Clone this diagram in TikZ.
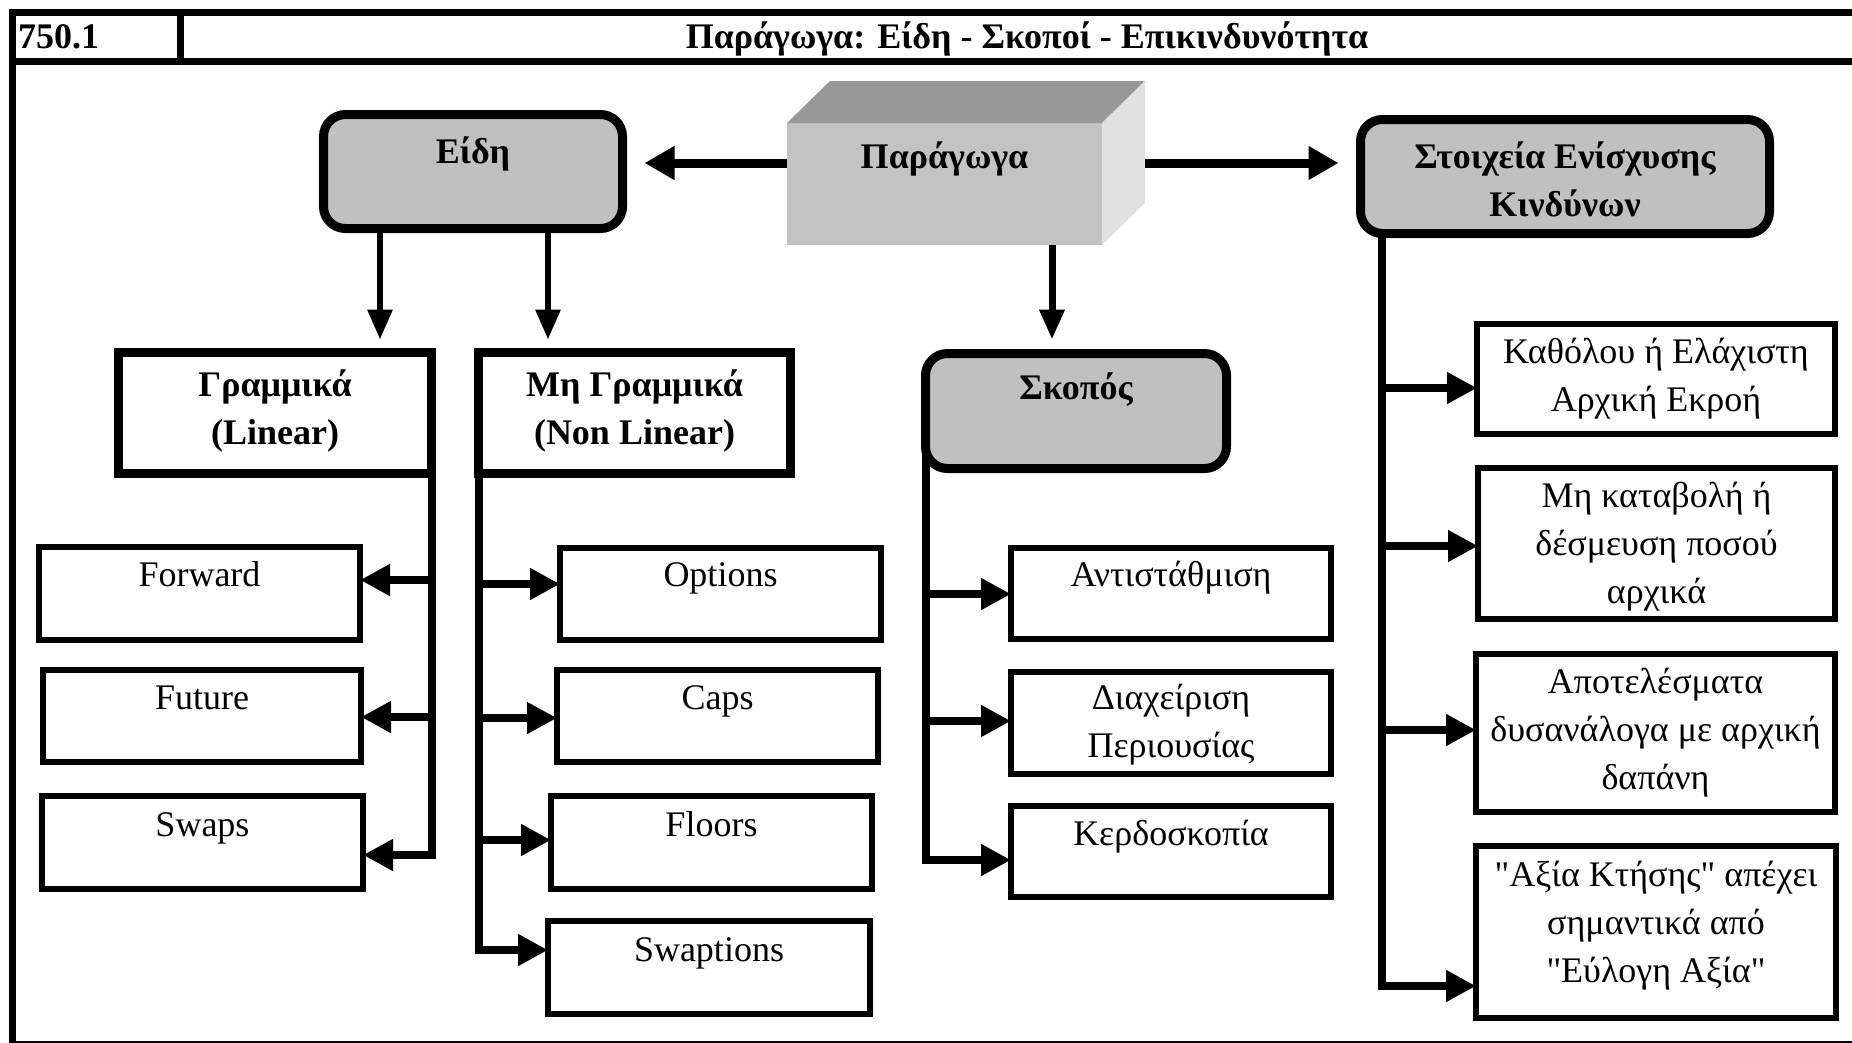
\documentclass[tikz,border=0pt]{standalone}
\usepackage{fontspec}
\setmainfont{Liberation Serif}
\newfontfamily\plainserif{Liberation Serif}
\usetikzlibrary{arrows.meta}
\definecolor{boxgray}{RGB}{192,192,192}
\definecolor{frontgray}{RGB}{195,195,195}
\definecolor{topgray}{RGB}{152,152,152}
\definecolor{sidegray}{RGB}{225,225,225}
\begin{document}
\begin{tikzpicture}[x=1pt,y=-1pt,
  every node/.style={inner sep=0pt, outer sep=0pt},
  headbox/.style={draw, line width=9pt, fill=boxgray, rounded corners=22pt},
  plainhead/.style={draw, line width=9pt, fill=white},
  leaf/.style={draw, line width=6pt, fill=white},
  txt/.style={anchor=north, align=center, font=\fontsize{36}{48}\selectfont},
  btxt/.style={anchor=north, align=center, font=\fontsize{36}{48}\selectfont\bfseries},
  frameline/.style={line width=7pt},
  harrow/.style={line width=9pt, -{Triangle[length=30pt,width=32pt]}},
  varrow/.style={line width=6pt, -{Triangle[length=30pt,width=24pt]}},
  brline/.style={line width=8pt, -{Triangle[length=30pt,width=30pt]}}]

\useasboundingbox (0,0) rectangle (1852,1042);
\fill[white] (0,0) rectangle (1852,1042);
\clip (0,0) rectangle (1852,1042);

% frame
\draw[frameline] (12,12.5) rectangle (1860,1044);
\draw[frameline] (12,61) -- (1860,61);
\draw[frameline] (180,12.5) -- (180,61);
\node[anchor=base west, font=\fontsize{36}{48}\selectfont\bfseries] (num) at (18,48) {750.1};
\node[anchor=base, font=\fontsize{36}{48}\selectfont\bfseries] (title) at (1027,48) {Παράγωγα: Είδη - Σκοποί - Επικινδυνότητα};

% 3D box
\node[fill=frontgray, minimum width=315pt, minimum height=122pt] (par) at (944.5,184) {};
\fill[topgray] (par.north west) -- ++(43,-42) -- ([shift={(43,-42)}]par.north east) -- (par.north east) -- cycle;
\fill[sidegray] (par.north east) -- ++(43,-42) -- ([shift={(43,-42)}]par.south east) -- (par.south east) -- cycle;
\node[btxt] (t-par) at (par.north |- 0,134.4) {\strut Παράγωγα};

% header boxes
\node[headbox, minimum width=299pt, minimum height=114pt] (eidi) at (473,171.5) {};
\node[headbox, minimum width=409pt, minimum height=114pt] (stoix) at (1565,176.5) {};
\node[headbox, minimum width=301pt, minimum height=115pt] (skopos) at (1076,411) {};
\node[plainhead, minimum width=313pt, minimum height=121pt] (lin) at (275,413) {};
\node[plainhead, minimum width=312pt, minimum height=121pt] (nonlin) at (634.5,413) {};

\node[btxt] (t-eidi) at (eidi.north |- 0,129.4) {\strut Είδη};
\node[btxt] (t-stoix) at (stoix.north |- 0,134.4) {\strut Στοιχεία Ενίσχυσης\\Κινδύνων};
\node[btxt] (t-skopos) at (skopos.north |- 0,365.4) {\strut Σκοπός};
\node[btxt] (t-lin) at (lin.north |- 0,362.4) {\strut Γραμμικά\\(Linear)};
\node[btxt] (t-nonlin) at (nonlin.north |- 0,362.4) {\strut Μη Γραμμικά\\(Non Linear)};

% leaf boxes
\node[leaf, minimum width=321pt, minimum height=93pt] (forward) at (199.5,593.5) {};
\node[leaf, minimum width=318pt, minimum height=92pt] (future) at (202,716) {};
\node[leaf, minimum width=321pt, minimum height=93pt] (swaps) at (202.5,842.5) {};
\node[leaf, minimum width=321pt, minimum height=92pt] (options) at (720.5,594) {};
\node[leaf, minimum width=321pt, minimum height=92pt] (caps) at (717.5,716) {};
\node[leaf, minimum width=321pt, minimum height=93pt] (floors) at (711.5,842.5) {};
\node[leaf, minimum width=322pt, minimum height=93pt] (swaptions) at (709,967.5) {};
\node[leaf, minimum width=320pt, minimum height=91pt] (antist) at (1171,593.5) {};
\node[leaf, minimum width=320pt, minimum height=102pt] (diax) at (1171,722.5) {};
\node[leaf, minimum width=320pt, minimum height=91pt] (kerd) at (1171,851.5) {};
\node[leaf, minimum width=358pt, minimum height=110pt] (r1) at (1656,379) {};
\node[leaf, minimum width=357pt, minimum height=151pt] (r2) at (1656.5,543.5) {};
\node[leaf, minimum width=359pt, minimum height=158pt] (r3) at (1655.5,733) {};
\node[leaf, minimum width=360pt, minimum height=172pt] (r4) at (1656,932) {};

\node[txt] (t-forward) at (forward.north |- 0,552.4) {\strut Forward};
\node[txt] (t-future) at (future.north |- 0,675.4) {\strut Future};
\node[txt] (t-swaps) at (swaps.north |- 0,802.4) {\strut Swaps};
\node[txt] (t-options) at (options.north |- 0,552.4) {\strut Options};
\node[txt] (t-caps) at (caps.north |- 0,675.4) {\strut Caps};
\node[txt] (t-floors) at (floors.north |- 0,802.4) {\strut Floors};
\node[txt] (t-swaptions) at (swaptions.north |- 0,927.4) {\strut Swaptions};
\node[txt] (t-antist) at (antist.north |- 0,552.4) {\strut Αντιστάθμιση};
\node[txt] (t-diax) at (diax.north |- 0,675.4) {\strut Διαχείριση\\Περιουσίας};
\node[txt] (t-kerd) at (kerd.north |- 0,812) {\strut Κερδοσκοπία};
\node[txt] (t-r1) at (r1.north |- 0,329.4) {\strut Καθόλου ή Ελάχιστη\\Αρχική Εκροή};
\node[txt] (t-r2) at (r2.north |- 0,473.4) {\strut Μη καταβολή ή\\δέσμευση ποσού\\αρχικά};
\node[txt] (t-r3) at (r3.north |- 0,659.4) {\strut Αποτελέσματα\\δυσανάλογα με αρχική\\δαπάνη};
\node[txt, font=\fontsize{36}{48}\plainserif] (t-r4) at (r4.north |- 0,852.4) {\strut "Αξία Κτήσης" απέχει\\σημαντικά από\\"Εύλογη Αξία"};

% top connectors
\coordinate (pl) at ([yshift=21pt]par.west);
\coordinate (eidiR) at ([xshift=22pt]eidi.east);
\coordinate (sideR) at ([xshift=43pt]par.east);
\coordinate (stoixL) at ([xshift=-22pt]stoix.west);
\draw[harrow] (pl) -- (pl -| eidiR);
\draw[harrow] (pl -| sideR) -- (pl -| stoixL);

\coordinate (linT) at ([yshift=13pt]lin.north);
\coordinate (skT) at ([yshift=14pt]skopos.north);
\draw[varrow] (eidi.south -| 380,0) -- (linT -| 380,0);
\draw[varrow] (eidi.south -| 548,0) -- (linT -| 548,0);
\draw[varrow, line width=7pt] (par.south -| 1052,0) -- (skT -| 1052,0);

% brackets: linear
\draw[brline] (lin.south east) |- (swaps.east |- 0,855);
\draw[brline] (lin.south east |- 0,580) -- (forward.east |- 0,580);
\draw[brline] (lin.south east |- 0,717) -- (future.east |- 0,717);

% brackets: non linear
\draw[brline] (nonlin.south west) |- (swaptions.west |- 0,950);
\draw[brline] (nonlin.south west |- 0,584) -- (options.west |- 0,584);
\draw[brline] (nonlin.south west |- 0,718) -- (caps.west |- 0,718);
\draw[brline] (nonlin.south west |- 0,840) -- (floors.west |- 0,840);

% brackets: purpose
\draw[brline] (skopos.west) |- (kerd.west |- 0,860);
\draw[brline] (skopos.west |- 0,594) -- (antist.west |- 0,594);
\draw[brline] (skopos.west |- 0,721) -- (diax.west |- 0,721);

% brackets: risk factors
\coordinate (sbar) at (stoix.south -| 1382,0);
\draw[brline] (sbar) |- (r4.west |- 0,986);
\draw[brline] (sbar |- 0,388) -- (r1.west |- 0,388);
\draw[brline] (sbar |- 0,546) -- (r2.west |- 0,546);
\draw[brline] (sbar |- 0,730) -- (r3.west |- 0,730);
\end{tikzpicture}
\end{document}
